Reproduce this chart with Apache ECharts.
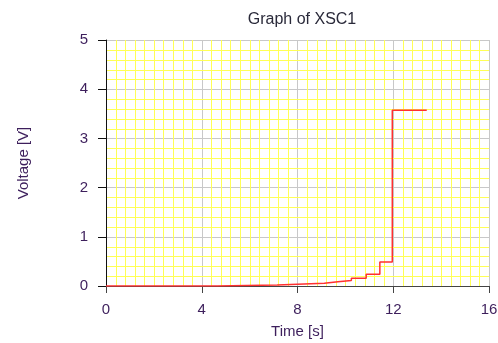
<!DOCTYPE html>
<html>
<head>
<meta charset="utf-8">
<script src="https://cdn.jsdelivr.net/npm/echarts@6/dist/echarts.min.js"></script>
<style>
  html, body { margin: 0; padding: 0; background: #ffffff; }
  #chart { width: 498px; height: 343px; }
</style>
</head>
<body>
<div id="chart"></div>
<script>
// Step waveform (time in s, voltage in V)
var times = [0, 4.64, 7.15, 9.12, 9.69, 10.25, 10.87, 11.44, 11.96, 13.4];
var volts = [0, 0.02, 0.055, 0.085, 0.11, 0.16, 0.24, 0.49, 3.57, 3.57];
var xTicks = [0, 4, 8, 12, 16];
var yTicks = [0, 1, 2, 3, 4, 5];
var xMinorStep = 0.4;
var yMinorStep = 0.2;
var titleText = 'Graph of XSC1';
var xName = 'Time [s]';
var yName = 'Voltage [V]';

var points = times.map(function (t, i) { return [t, volts[i]]; });
var labelColor = '#3d1f5c';
var font = '"Liberation Sans", Arial, sans-serif';
var xMin = xTicks[0], xMax = xTicks[xTicks.length - 1];
var yMin = yTicks[0], yMax = yTicks[yTicks.length - 1];

// minor grid positions (between the major ticks), drawn pixel-snapped
var minorLines = [];
var nx = Math.round((xMax - xMin) / xMinorStep);
for (var i = 1; i < nx; i++) {
  if (i % 10 !== 0) minorLines.push([+(xMin + i * xMinorStep).toFixed(4), 0]);
}
var ny = Math.round((yMax - yMin) / yMinorStep);
for (var j = 1; j < ny; j++) {
  if (j % 5 !== 0) minorLines.push([+(yMin + j * yMinorStep).toFixed(4), 1]);
}

function renderMinor(params, api) {
  var v = api.value(0), dir = api.value(1);
  var x1, y1, x2, y2;
  if (dir === 0) {
    var a = api.coord([v, yMin]), b = api.coord([v, yMax]);
    var px = Math.round(a[0]) + 0.5;
    x1 = px; x2 = px; y1 = Math.round(a[1]); y2 = Math.round(b[1]);
  } else {
    var c = api.coord([xMin, v]), d = api.coord([xMax, v]);
    var py = Math.round(c[1]) + 0.5;
    y1 = py; y2 = py; x1 = Math.round(c[0]) + 1; x2 = Math.round(d[0]);
  }
  return {
    type: 'line',
    shape: { x1: x1, y1: y1, x2: x2, y2: y2 },
    style: { stroke: '#ffff55', lineWidth: 1 },
    silent: true
  };
}

var chart = echarts.init(document.getElementById('chart'), null, { renderer: 'canvas' });
chart.setOption({
  animation: false,
  backgroundColor: '#ffffff',
  title: {
    text: titleText,
    left: 297, top: 7, textAlign: 'center',
    textStyle: { fontFamily: font, fontSize: 16, fontWeight: 'normal', color: '#2a2a3a' }
  },
  grid: { left: 106, right: 9, top: 40, bottom: 57, containLabel: false, outerBoundsMode: 'none', show: false },
  xAxis: {
    type: 'value', min: xMin, max: xMax, interval: 4,
    name: xName, nameLocation: 'middle', nameGap: 38,
    nameTextStyle: { fontFamily: font, fontSize: 15, color: labelColor },
    axisLine: { show: true, onZero: false, lineStyle: { color: '#444444', width: 1 } },
    axisTick: { show: true, inside: false, length: 7, lineStyle: { color: '#444444', width: 1 } },
    axisLabel: { margin: 16, fontFamily: font, fontSize: 15, color: labelColor },
    splitLine: { show: true, lineStyle: { color: '#c8c8c8', width: 1 } }
  },
  yAxis: {
    type: 'value', min: yMin, max: yMax, interval: 1,
    name: yName, nameLocation: 'middle', nameGap: 75, nameRotate: 90,
    nameTextStyle: { fontFamily: font, fontSize: 15, color: labelColor },
    axisLine: { show: true, onZero: false, lineStyle: { color: '#111111', width: 1 } },
    axisTick: { show: true, inside: false, length: 8, lineStyle: { color: '#111111', width: 1 } },
    axisLabel: { margin: 18, fontFamily: font, fontSize: 15, color: labelColor },
    splitLine: { show: true, lineStyle: { color: '#c8c8c8', width: 1 } }
  },
  series: [{
    type: 'custom',
    renderItem: renderMinor,
    data: minorLines,
    encode: { x: -1, y: -1 },
    silent: true,
    clip: false,
    z: 1
  }, {
    type: 'line',
    step: 'end',
    data: points,
    symbol: 'none',
    lineStyle: { color: '#ff3030', width: 1.5 },
    z: 5
  }]
});
</script>
</body>
</html>
